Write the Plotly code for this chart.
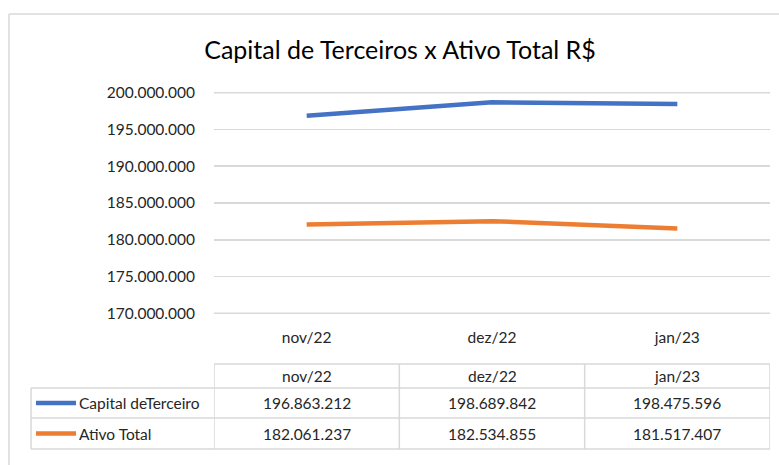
import plotly.graph_objects as go

categories = ["nov/22", "dez/22", "jan/23"]
capital_terceiros = [196863212, 198689842, 198475596]
ativo_total = [182061237, 182534855, 181517407]
series_names = ["Capital deTerceiro", "Ativo Total"]
series_colors = ["#4472C4", "#ED7D31"]
title_text = "Capital de Terceiros x Ativo Total R$"
y_min, y_max, y_step = 170000000, 200000000, 5000000

W, H = 779, 465
FONT = "Lato, sans-serif"
FS = 15.5
TXT = "#262626"
GRID = "#D9D9D9"
PLOT_TOP, PLOT_BOTTOM = 92.7, 313.3


def px(x):
    return x / W


def py(y):
    return 1 - y / H


def fmt(v):
    return f"{v:,}".replace(",", ".")


fig = go.Figure()
for name, vals, col in zip(series_names, [capital_terceiros, ativo_total], series_colors):
    fig.add_trace(go.Scatter(x=categories, y=vals, mode="lines", name=name,
                             line=dict(color=col, width=4.5), showlegend=False, hoverinfo="skip"))

shapes = []
# outer chart border (top and left visible)
shapes.append(dict(type="line", xref="paper", yref="paper", x0=px(9), x1=px(W + 5), y0=py(14), y1=py(14),
                   line=dict(color=GRID, width=1.5)))
shapes.append(dict(type="line", xref="paper", yref="paper", x0=px(9), x1=px(9), y0=py(14), y1=py(H + 5),
                   line=dict(color=GRID, width=1.5)))
# edge gridlines (top and bottom of value axis)
for yy in (PLOT_TOP, PLOT_BOTTOM):
    shapes.append(dict(type="line", xref="paper", yref="paper", x0=px(214), x1=px(770), y0=py(yy), y1=py(yy),
                       line=dict(color=GRID, width=1.5), layer="below"))

# data table grid
row_y = [364, 388, 418, 449]
left_x = 31
shapes.append(dict(type="line", xref="x", yref="paper", x0=-0.5, x1=len(categories) - 0.5,
                   y0=py(row_y[0]), y1=py(row_y[0]), line=dict(color=GRID, width=1.5)))
for yy in row_y[1:]:
    shapes.append(dict(type="line", xref="paper", yref="paper", x0=px(left_x), x1=px(770),
                       y0=py(yy), y1=py(yy), line=dict(color=GRID, width=1.5)))
shapes.append(dict(type="line", xref="paper", yref="paper", x0=px(left_x), x1=px(left_x),
                   y0=py(row_y[1]), y1=py(row_y[3]), line=dict(color=GRID, width=1.5)))
for i in range(len(categories) + 1):
    shapes.append(dict(type="line", xref="x", yref="paper", x0=i - 0.5, x1=i - 0.5,
                       y0=py(row_y[0]), y1=py(row_y[3]), line=dict(color=GRID, width=1.5)))

annotations = []
# header row
for c in categories:
    annotations.append(dict(x=c, xref="x", yref="paper", y=py((row_y[0] + row_y[1]) / 2),
                            text=c, showarrow=False, font=dict(family=FONT, size=FS, color=TXT),
                            xanchor="center", yanchor="middle"))
# data rows
for r, (name, vals, col) in enumerate(zip(series_names, [capital_terceiros, ativo_total], series_colors)):
    yc = (row_y[r + 1] + row_y[r + 2]) / 2
    shapes.append(dict(type="line", xref="paper", yref="paper", x0=px(36), x1=px(76),
                       y0=py(yc), y1=py(yc), line=dict(color=col, width=4.5)))
    annotations.append(dict(x=px(77), xref="paper", yref="paper", y=py(yc), text=name, showarrow=False,
                            font=dict(family=FONT, size=FS, color=TXT), xanchor="left", yanchor="middle"))
    for c, v in zip(categories, vals):
        annotations.append(dict(x=c, xref="x", yref="paper", y=py(yc), text=fmt(v), showarrow=False,
                                font=dict(family=FONT, size=FS, color=TXT), xanchor="center", yanchor="middle"))

fig.update_layout(
    width=W, height=H,
    autosize=False,
    margin=dict(l=0, r=0, t=0, b=0, pad=0, autoexpand=False),
    paper_bgcolor="white", plot_bgcolor="white",
    separators=",.",
    hovermode=False,
    title=dict(text=title_text, x=px(400), xanchor="center", y=py(50), yanchor="middle",
               font=dict(family=FONT, size=25, color="#000000")),
    xaxis=dict(domain=[px(214), px(770)], range=[-0.5, 2.5], showgrid=False, showline=False,
               zeroline=False, ticks="", tickfont=dict(family=FONT, size=FS, color=TXT),
               ticklabelstandoff=13, automargin=False),
    yaxis=dict(domain=[py(PLOT_BOTTOM), py(PLOT_TOP)], range=[y_min, y_max],
               tick0=y_min, dtick=y_step,
               tickformat=",d", showgrid=True, gridcolor=GRID, gridwidth=1.5, zeroline=False,
               showline=False, ticks="", tickfont=dict(family=FONT, size=FS, color=TXT),
               ticklabelstandoff=18, automargin=False),
    shapes=shapes,
    annotations=annotations,
)

fig.write_html("out.html", config={"displayModeBar": False, "staticPlot": True},
               post_script="document.body.style.margin='0';document.body.style.overflow='hidden';")
